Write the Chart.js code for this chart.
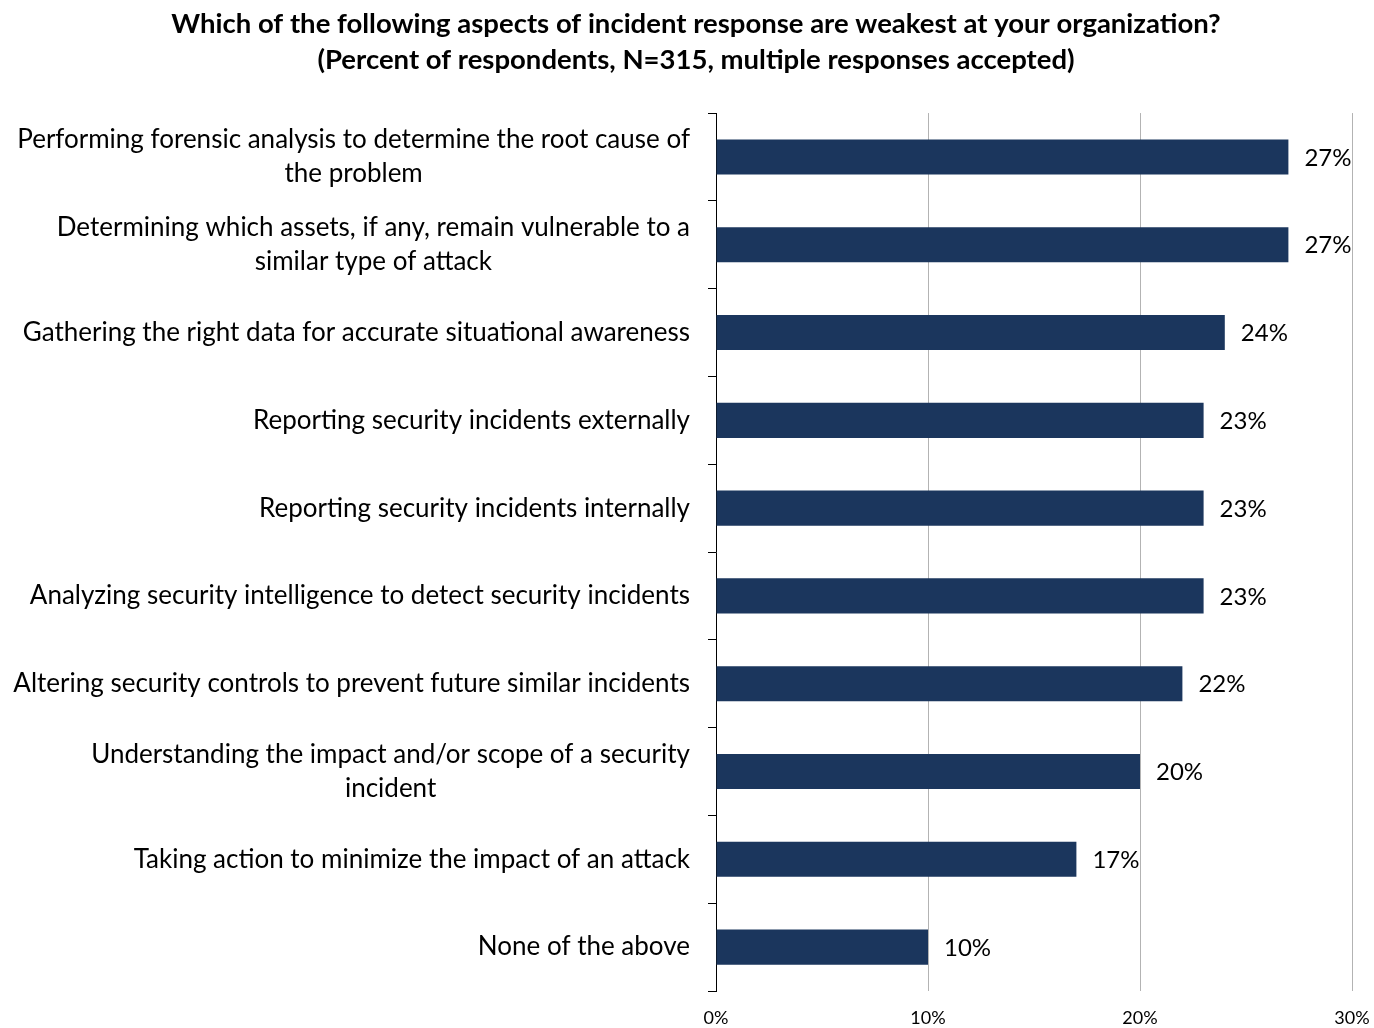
<!DOCTYPE html>
<html>
<head>
<meta charset="utf-8">
<script src="https://cdn.jsdelivr.net/npm/chart.js@4/dist/chart.umd.min.js"></script>
<style>
  body { margin: 0; background: #fff; }
</style>
</head>
<body>
<canvas id="weakestChart" width="1374" height="1028"></canvas>
<script>
// 類別（已斷行）
const categories = [
    ['Performing forensic analysis to determine the root cause of', 'the problem'],
    ['Determining which assets, if any, remain vulnerable to a', 'similar type of attack'],
    ['Gathering the right data for accurate situational awareness'],
    ['Reporting security incidents externally'],
    ['Reporting security incidents internally'],
    ['Analyzing security intelligence to detect security incidents'],
    ['Altering security controls to prevent future similar incidents'],
    ['Understanding the impact and/or scope of a security', 'incident'],
    ['Taking action to minimize the impact of an attack'],
    ['None of the above']
];
const percents = [27, 27, 24, 23, 23, 23, 22, 20, 17, 10];
const xTicks = [0, 10, 20, 30];
const titleLines = [
    'Which of the following aspects of incident response are weakest at your organization?',
    '(Percent of respondents, N=315, multiple responses accepted)'
];

const fontFamily = 'Lato, "Open Sans", sans-serif';
Chart.defaults.font.family = fontFamily;
Chart.defaults.color = '#000';

// 左邊的類別文字：整塊靠右，多行置中
const categoryLabels = {
    id: 'categoryLabels',
    afterDraw(chart) {
        const ctx = chart.ctx;
        const yScale = chart.scales.y;
        ctx.save();
        ctx.font = '26px ' + fontFamily;
        ctx.fillStyle = '#000';
        ctx.textBaseline = 'middle';
        ctx.textAlign = 'center';
        const right = yScale.right - 26;
        const lineH = 34;
        categories.forEach((lines, i) => {
            const y = yScale.getPixelForValue(i);
            const widest = Math.max(...lines.map(l => ctx.measureText(l).width));
            const cx = right - widest / 2;
            const y0 = y - (lines.length - 1) * lineH / 2;
            lines.forEach((l, j) => ctx.fillText(l, cx, y0 + j * lineH));
        });
        ctx.restore();
    }
};

// 長條右邊的百分比
const valueLabels = {
    id: 'valueLabels',
    afterDatasetsDraw(chart) {
        const ctx = chart.ctx;
        const meta = chart.getDatasetMeta(0);
        ctx.save();
        ctx.font = '24px ' + fontFamily;
        ctx.fillStyle = '#000';
        ctx.textBaseline = 'middle';
        ctx.textAlign = 'left';
        meta.data.forEach((bar, i) => {
            ctx.fillText(percents[i] + '%', bar.x + 16, bar.y + 1);
        });
        ctx.restore();
    }
};

let ctx = document.getElementById('weakestChart');
new Chart(ctx, {
    type: 'bar',
    data: {
        labels: categories,
        datasets: [{
            data: percents,
            backgroundColor: '#1b365d',
            borderWidth: 0,
            barPercentage: 0.4,
            categoryPercentage: 1
        }]
    },
    options: {
        indexAxis: 'y',
        responsive: false,
        animation: false,
        layout: {
            padding: { left: 40, right: 22, top: 0, bottom: 0 }
        },
        scales: {
            x: {
                min: 0,
                max: 30,
                afterBuildTicks: (scale) => {
                    scale.ticks = xTicks.map(v => ({ value: v }));
                },
                afterFit: (scale) => {
                    scale.paddingLeft = 0;
                    scale.paddingRight = 0;
                    scale.height = 37;
                },
                ticks: {
                    font: { size: 18 },
                    padding: 16,
                    callback: (v) => v + '%'
                },
                grid: {
                    color: '#b3b3b3',
                    lineWidth: 1,
                    drawTicks: false
                },
                border: { display: false }
            },
            y: {
                ticks: { display: false },
                afterFit: (scale) => {
                    scale.width = 676;
                    scale.paddingTop = 0;
                    scale.paddingBottom = 0;
                },
                grid: {
                    offset: true,
                    drawOnChartArea: false,
                    drawTicks: true,
                    tickLength: 8,
                    color: '#000'
                },
                border: { display: true, color: '#000', width: 1 }
            }
        },
        plugins: {
            legend: { display: false },
            tooltip: { enabled: false },
            title: {
                display: true,
                text: titleLines,
                font: { size: 27.5, weight: 'bold', lineHeight: 1.31 },
                padding: { top: 6, bottom: 35 }
            }
        }
    },
    plugins: [categoryLabels, valueLabels]
});
</script>
</body>
</html>
